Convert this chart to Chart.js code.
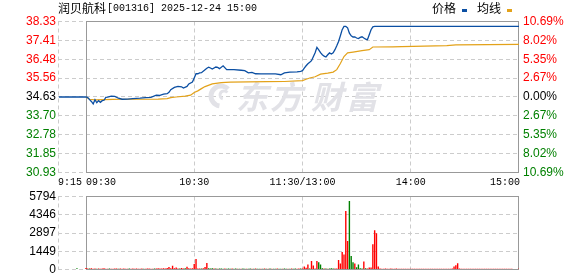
<!DOCTYPE html>
<html>
<head>
<meta charset="utf-8">
<script src="https://cdn.jsdelivr.net/npm/chart.js@4"></script>
<style>
  body { margin: 0; background: #fff; }
  #wrap { position: relative; width: 578px; height: 276px; }
  canvas { position: absolute; left: 0; }
</style>
</head>
<body>
<div id="wrap">
  <canvas id="priceChart" width="578" height="190" style="top:0"></canvas>
  <canvas id="volChart" width="578" height="86" style="top:190px"></canvas>
</div>
<script>
const stockName = "润贝航科";
const stockInfo = "[001316] 2025-12-24 15:00";

// y axis tick labels
const priceTicks = [38.33, 37.41, 36.48, 35.56, 34.63, 33.70, 32.78, 31.85, 30.93];
const pctLabels = ["10.69%", "8.02%", "5.35%", "2.67%", "0.00%", "2.67%", "5.35%", "8.02%", "10.69%"];
const volTicks = [5794, 4346, 2897, 1449, 0];

// x axis: minutes from 09:30 (afternoon continues after 120 = 11:30/13:00)
const timeLabels = ["9:15", "09:30", "10:30", "11:30/13:00", "14:00", "15:00"];
const timeMinutes = [-15, 0, 60, 120, 180, 240];

// price line (minute, price)
const priceMinutes = [-15, 0, 1, 2, 3, 4, 5, 6, 7, 8, 9, 10, 11, 12, 14, 16, 18, 20, 23, 26, 30, 33, 36, 39, 41, 43, 45, 46, 47, 49,
  51, 53, 54, 56, 57, 59, 60, 61, 62, 63, 64, 66, 67, 68, 69, 70, 72, 73, 74, 76, 78, 82, 86, 88, 90, 92, 94, 97, 101, 105,
  108, 110, 113, 117, 119, 120, 121, 122, 123, 124, 125, 126, 127, 128, 129, 130, 131, 132, 133, 134, 135, 136, 137, 138, 139,
  140, 141, 142, 143, 144, 145, 146, 147, 148, 149, 150, 151, 152, 153, 154, 155, 156, 157, 158, 159, 160, 240];
const priceValues = [34.63, 34.63, 34.60, 34.50, 34.41, 34.29, 34.50, 34.35, 34.45, 34.37, 34.45, 34.47, 34.61, 34.62, 34.67, 34.66, 34.57, 34.52, 34.53, 34.55, 34.57, 34.60, 34.61, 34.72, 34.71, 34.77, 34.79, 34.86, 34.99, 35.10,
  35.15, 35.13, 35.07, 35.15, 35.27, 35.36, 35.56, 35.77, 35.77, 35.81, 35.82, 35.97, 36.04, 36.09, 36.05, 36.00, 36.10, 36.08, 36.02, 36.16, 35.97, 35.97, 35.94, 35.92, 35.81, 35.84, 35.77, 35.76, 35.76, 35.76,
  35.72, 35.81, 35.85, 35.86, 35.89, 35.92, 36.05, 36.16, 36.26, 36.33, 36.41, 36.60, 36.80, 37.06, 36.94, 36.80, 36.70, 36.63, 36.59, 36.70, 36.79, 36.74, 36.80, 36.95, 37.14,
  37.35, 37.63, 37.93, 38.09, 38.09, 38.02, 37.76, 37.63, 37.57, 37.58, 37.52, 37.49, 37.55, 37.58, 37.52, 37.47, 37.44, 37.68, 37.93, 38.07, 38.09, 38.09];

// average price line
const avgMinutes = [0, 2, 5, 10, 15, 20, 30, 40, 45, 47, 50, 55, 58, 60, 62, 64, 66, 70, 75, 80, 90, 100, 110, 120, 122, 124, 127, 130,
  134, 137, 139, 141, 143, 145, 148, 153, 157, 159, 170, 175, 200, 205, 240];
const avgValues = [34.63, 34.52, 34.49, 34.50, 34.51, 34.52, 34.52, 34.53, 34.55, 34.60, 34.63, 34.67, 34.72, 34.85, 34.93, 35.04, 35.14, 35.27, 35.33, 35.36, 35.37, 35.38, 35.39, 35.43, 35.50, 35.56, 35.62, 35.75,
  35.80, 35.85, 35.97, 36.27, 36.61, 36.79, 36.83, 36.90, 36.95, 37.08, 37.09, 37.10, 37.15, 37.18, 37.21];

// volume per minute, 09:30 .. 15:00 (241 bars), plus the 09:25 auction bar
const auctionMinute = -5;
const auctionVolume = 100;
const volumes = [
  120, 80, 70, 90, 60, 70, 60, 80, 60, 70,
  90, 60, 60, 70, 60, 60, 70, 80, 60, 70,
  60, 70, 60, 50, 70, 60, 80, 60, 70, 50,
  60, 70, 60, 60, 80, 70, 60, 50, 70, 80,
  90, 70, 80, 90, 80, 120, 190, 90, 300, 90,
  160, 80, 70, 110, 70, 90, 215, 100, 70, 100,
  430, 830, 70, 80, 70, 90, 190, 510, 100, 70,
  90, 70, 80, 60, 70, 80, 60, 70, 60, 80,
  60, 70, 60, 70, 60, 50, 60, 70, 60, 50,
  60, 70, 60, 50, 70, 60, 60, 50, 60, 70,
  60, 50, 70, 60, 50, 60, 70, 60, 50, 60,
  70, 60, 50, 60, 70, 60, 80, 60, 70, 80,
  70, 240, 130, 400, 70, 665, 320, 70, 665, 585,
  400, 90, 70, 70, 60, 70, 90, 70, 80, 70,
  745, 480, 1385, 1200, 4650, 2260, 5430, 1065, 585, 480,
  185, 400, 90, 70, 640, 90, 70, 160, 160, 2000,
  3110, 2870, 240, 70, 60, 60, 70, 60, 60, 70,
  60, 60, 70, 60, 60, 50, 60, 60, 50, 60,
  60, 50, 60, 60, 50, 60, 60, 50, 60, 60,
  50, 60, 60, 50, 60, 50, 60, 60, 50, 60,
  60, 50, 60, 70, 240, 345, 505, 70, 60, 60,
  50, 60, 60, 50, 60, 60, 50, 60, 60, 50,
  60, 60, 50, 60, 60, 50, 60, 60, 50, 60,
  60, 50, 60, 60, 50, 60, 60, 0, 0, 0,
  80];
// r = up bar, g = down bar
const volDirs = [
  "rrgrrrgrrr", "rrrgrrrrgr", "rrrrgrrrrr", "rrgrrrrrgr", "rrrrrrrrrr",
  "rrgrrgrrrr", "rrrrgrrrgg", "grgrgggrgg", "grggrgrggr", "ggrgrggrgr",
  "grgrggrggr", "ggrgrggrrg", "rrrrgrrrrg", "ggrgrgggrr", "rrrrrrgggr",
  "ggggrgrrrr", "rrrrrrrrrr", "rrrrrrrrrr", "rrrrrrrrrr", "rrrrrrrrrr",
  "rrrrrrrrrr", "rrrrrrrrrr", "rrrrrrrrrr", "rrrrrrrrrr", "r"].join("");

const RED = "#ff0000";
const GREEN = "#008000";
const PRICE_COLOR = "#0b4fa3";
const AVG_COLOR = "#e3a21a";
const GRID = "#cccccc";
const FRAME = "#999999";
const X_MIN = -15.5;
const X_MAX = 240;
const gridMinutes = [X_MIN, 60, 120, 180];

function timeAxis() {
  return {
    type: "linear", min: X_MIN, max: X_MAX, offset: false,
    afterBuildTicks: (s) => { s.ticks = gridMinutes.map((v) => ({ value: v })); },
    ticks: { display: false },
    grid: { color: GRID, drawTicks: false, offset: false },
    border: { display: false, dash: [4, 3] },
    afterFit: (s) => { s.height = 0; },
  };
}

function valueAxis(min, max, ticks) {
  return {
    min: min, max: max,
    afterBuildTicks: (s) => { s.ticks = ticks.map((v) => ({ value: v })); },
    ticks: { display: false },
    grid: { color: GRID, drawTicks: false },
    border: { display: false, dash: [4, 3] },
    afterFit: (s) => { s.width = 0; },
  };
}

function drawFrame(chart) {
  const { ctx, chartArea: a, scales: { x } } = chart;
  const l = Math.round(x.getPixelForValue(0)) + 0.5;
  const r = Math.round(x.getPixelForValue(X_MAX)) - 0.5;
  ctx.save();
  ctx.strokeStyle = FRAME;
  ctx.lineWidth = 1;
  ctx.strokeRect(l, a.top, r - l, a.bottom - a.top);
  ctx.restore();
}

const priceDecor = {
  id: "priceDecor",
  beforeDatasetsDraw(chart) {
    const { ctx } = chart;
    ctx.save();
    ctx.fillStyle = "#e2e2e7";
    ctx.strokeStyle = "#e2e2e7";
    ctx.font = 'italic bold 32px "Noto Sans CJK SC"';
    ctx.textAlign = "center";
    ctx.textBaseline = "middle";
    ["东", "方", "财", "富"].forEach((c, i) => ctx.fillText(c, [252, 286, 327, 362][i], 97));
    ctx.lineWidth = 5;
    ctx.beginPath();
    ctx.arc(221, 96, 10, Math.PI * 0.55, Math.PI * 1.75);
    ctx.stroke();
    ctx.lineWidth = 3;
    ctx.beginPath();
    ctx.arc(224, 95, 4, Math.PI * 0.6, Math.PI * 1.8);
    ctx.stroke();
    ctx.restore();
    drawFrame(chart);
  },
  afterDraw(chart) {
    const { ctx, scales: { x, y } } = chart;
    ctx.save();
    ctx.textBaseline = "middle";
    ctx.font = '12px "Liberation Sans"';
    priceTicks.forEach((v, i) => {
      const py = y.getPixelForValue(v);
      ctx.fillStyle = i < 4 ? RED : i === 4 ? "#000" : GREEN;
      ctx.textAlign = "right";
      ctx.fillText(v.toFixed(2), 56, py);
      ctx.textAlign = "left";
      ctx.fillText(pctLabels[i], 523, py);
    });
    // time labels
    ctx.fillStyle = "#000";
    ctx.font = '10px "Liberation Mono"';
    const aligns = ["left", "left", "center", "center", "center", "right"];
    timeLabels.forEach((t, i) => {
      let px = x.getPixelForValue(timeMinutes[i]);
      if (i === 0) px = chart.chartArea.left;
      if (i === 5) px += 1;
      ctx.textAlign = aligns[i];
      ctx.fillText(t, px, 182);
    });
    // title
    ctx.textAlign = "left";
    ctx.font = '12px "Noto Sans CJK SC"';
    ctx.fillText(stockName, 58, 8);
    ctx.font = '10px "Liberation Mono"';
    ctx.fillText(stockInfo, 107, 8);
    // legend
    ctx.font = '12px "Noto Sans CJK SC"';
    ctx.fillText("价格", 432, 8);
    ctx.fillText("均线", 477, 8);
    ctx.fillStyle = PRICE_COLOR;
    ctx.fillRect(462, 9, 5, 3);
    ctx.fillStyle = AVG_COLOR;
    ctx.fillRect(507, 9, 5, 3);
    ctx.restore();
  },
};

new Chart(document.getElementById("priceChart"), {
  type: "line",
  data: {
    datasets: [
      {
        data: priceMinutes.map((m, i) => ({ x: m, y: priceValues[i] })),
        borderColor: PRICE_COLOR, borderWidth: 1.3, pointRadius: 0, tension: 0,
      },
      {
        data: avgMinutes.map((m, i) => ({ x: m, y: avgValues[i] })),
        borderColor: AVG_COLOR, borderWidth: 1.2, pointRadius: 0, tension: 0,
      },
    ],
  },
  options: {
    responsive: false, animation: false, devicePixelRatio: 1,
    layout: { padding: { left: 58, right: 59, top: 21.5, bottom: 17.5 } },
    plugins: { legend: { display: false }, tooltip: { enabled: false } },
    scales: { x: timeAxis(), y: valueAxis(30.93, 38.33, priceTicks) },
  },
  plugins: [priceDecor],
});

const volDecor = {
  id: "volDecor",
  beforeDatasetsDraw(chart) { drawFrame(chart); },
  afterDraw(chart) {
    const { ctx, scales: { y } } = chart;
    ctx.save();
    ctx.font = '12px "Liberation Sans"';
    ctx.fillStyle = "#000";
    ctx.textAlign = "right";
    ctx.textBaseline = "middle";
    volTicks.forEach((v) => ctx.fillText(String(v), 56, y.getPixelForValue(v)));
    ctx.restore();
  },
};

const volPoints = [{ x: auctionMinute, y: auctionVolume }].concat(volumes.map((v, m) => ({ x: m, y: v })));
const volColors = [GREEN].concat(volumes.map((v, m) => (volDirs[m] === "g" ? GREEN : RED)));

new Chart(document.getElementById("volChart"), {
  type: "bar",
  data: {
    datasets: [{ data: volPoints, backgroundColor: volColors, borderWidth: 0, barThickness: 1.4, inflateAmount: 0 }],
  },
  options: {
    responsive: false, animation: false, devicePixelRatio: 1,
    layout: { padding: { left: 58, right: 59, top: 6.5, bottom: 6.5 } },
    plugins: { legend: { display: false }, tooltip: { enabled: false } },
    scales: { x: timeAxis(), y: valueAxis(0, 5794, volTicks) },
  },
  plugins: [volDecor],
});
</script>
</body>
</html>
